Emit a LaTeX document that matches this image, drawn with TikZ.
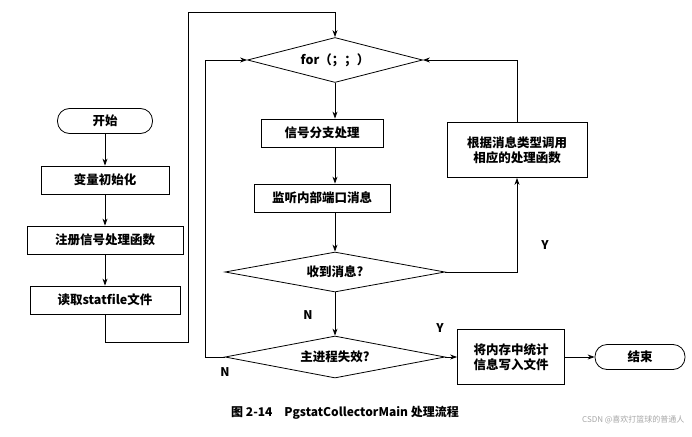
\documentclass[tikz,border=0pt]{standalone}
\usepackage{fontspec}
\setmainfont{Noto Sans CJK SC}
\usetikzlibrary{shapes.geometric,arrows.meta}
\begin{document}
\begin{tikzpicture}[x=1pt,y=-1pt,
  box/.style={draw,thick,minimum height=28pt,inner sep=2pt,font=\fontsize{12.5}{15}\selectfont\bfseries},
  term/.style={draw,thick,rounded corners=12pt,minimum height=25pt,font=\fontsize{12.5}{15}\selectfont\bfseries},
  dia/.style={draw,thick,diamond,aspect=4.5,inner sep=1pt,font=\fontsize{12.5}{15}\selectfont\bfseries},
  ar/.style={thick,-{Stealth[length=7pt,width=5pt]}},
  lab/.style={font=\fontsize{12}{14}\selectfont\bfseries}]
\useasboundingbox (0,0) rectangle (692,436);
\node[term,minimum width=95pt] (start) at (105,121) {开始};
\node[box,minimum width=128pt] (init) at (105,180) {变量初始化};
\node[box,minimum width=156pt] (reg) at (105,240) {注册信号处理函数};
\node[box,minimum width=150pt] (read) at (105,300) {读取statfile文件};
\node[dia,minimum width=175pt,minimum height=45pt] (for) at (335,60) {for（；；）};
\node[box,minimum width=122pt] (sig) at (322,133) {信号分支处理};
\node[box,minimum width=136pt] (lis) at (322,198) {监听内部端口消息};
\node[box,minimum width=140pt,minimum height=55pt,align=center] (call) at (517,150) {根据消息类型调用\\相应的处理函数};
\node[dia,minimum width=220pt,minimum height=40pt] (recv) at (335,272) {收到消息?};
\node[dia,minimum width=220pt,minimum height=42pt] (main) at (335,357) {主进程失效?};
\node[box,minimum width=107pt,minimum height=55pt,align=center] (save) at (511,357) {将内存中统计\\信息写入文件};
\node[term,minimum width=90pt] (end) at (640,357) {结束};
\coordinate (c1) at (105,342);
\coordinate (c2) at (188,342);
\coordinate (c3) at (188,12);
\coordinate (c4) at (335,12);
\coordinate (c5) at (205,357);
\coordinate (c6) at (205,60);
\draw[ar] (start) -- (init);
\draw[ar] (init) -- (reg);
\draw[ar] (reg) -- (read);
\draw[ar] (read.south) -- (c1) -- (c2) -- (c3) -- (c4) -- (for.north);
\draw[ar] (for.south) -- (sig.north -| for.south);
\draw[ar] (sig.south -| for.south) -- (lis.north -| for.south);
\draw[ar] (lis.south -| for.south) -- (recv.north);
\draw[ar] (recv.east) -| (call.south);
\draw[ar] (call.north) |- (for.east);
\draw[ar] (recv.south) -- (main.north);
\draw[ar] (main.east) -- (save.west);
\draw[ar] (save.east) -- (end.west);
\draw[ar] (main.west) -- (c5) -- (c6) -- (for.west);
\node[lab] (ly1) at (545,245) {Y};
\node[lab] (ln1) at (308,315) {N};
\node[lab] (ly2) at (440,328) {Y};
\node[lab] (ln2) at (225,372) {N};
\node[font=\fontsize{12}{14}\selectfont\bfseries] (cap) at (345,413) {图 2-14\quad PgstatCollectorMain 处理流程};
\node[font=\fontsize{8}{10}\selectfont,text=gray!70,anchor=east] (wm) at (688,420) {CSDN @喜欢打篮球的普通人};
\end{tikzpicture}
\end{document}
